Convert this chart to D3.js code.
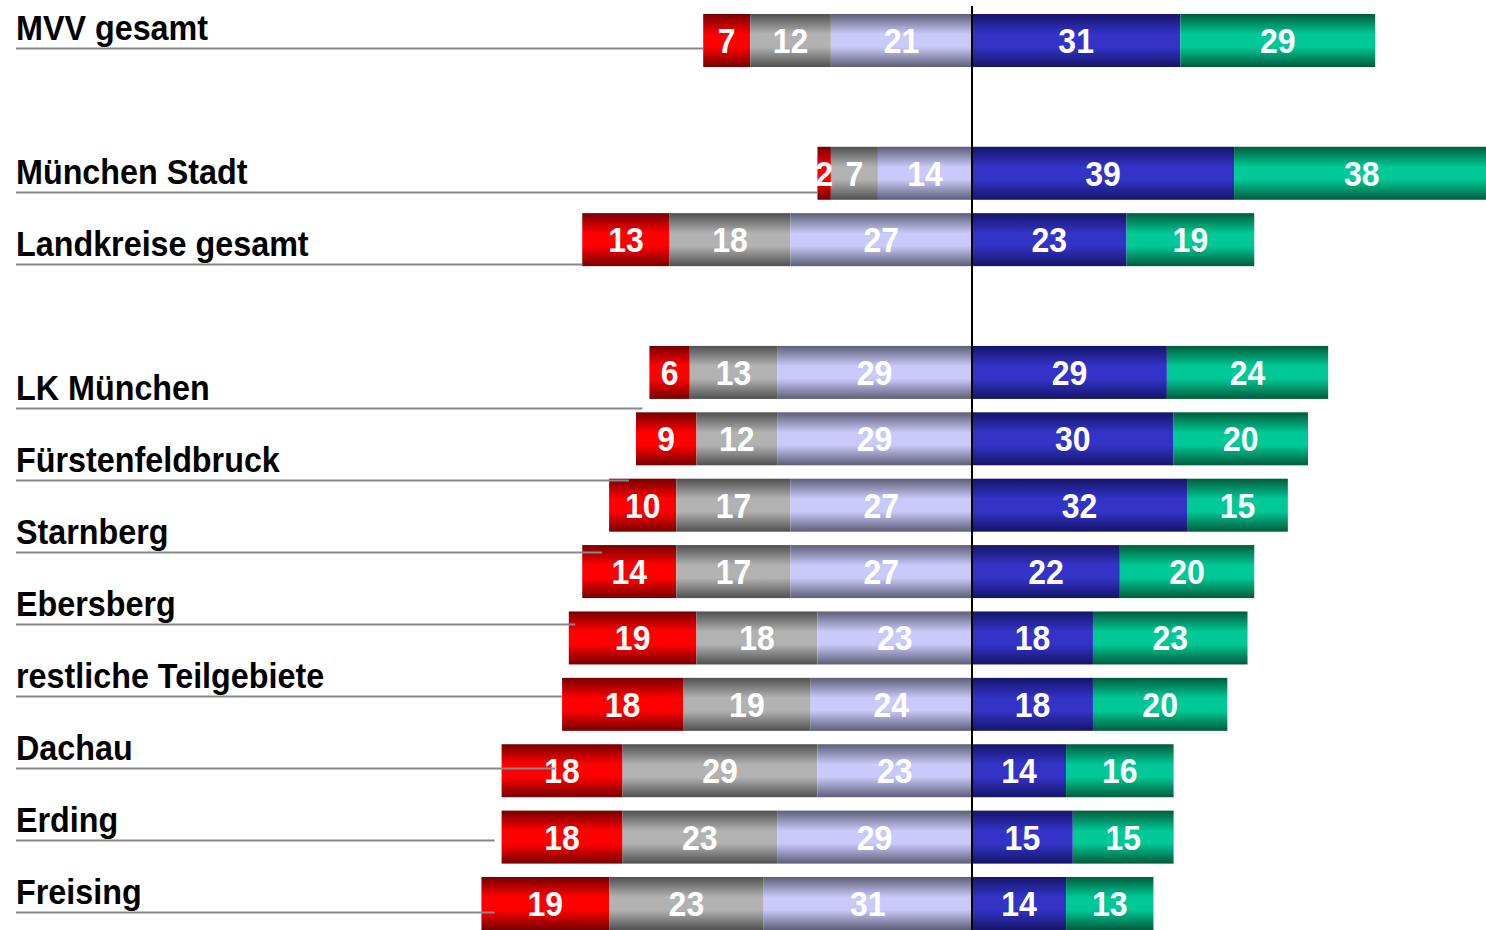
<!DOCTYPE html>
<html>
<head>
  <meta charset="utf-8">
  <style>
    body { margin: 0; background: #fff; }
    text { font-family: "Liberation Sans", Arial, sans-serif; font-weight: bold; }
  </style>
</head>
<body>
<svg id="chart" width="1486" height="930"></svg>
<script src="https://d3js.org/d3.v7.min.js"></script>
<script>
// region labels (the last bar row has no label in the original slide)
var labels = ["MVV gesamt", "München Stadt", "Landkreise gesamt", "LK München",
  "Fürstenfeldbruck", "Starnberg", "Ebersberg", "restliche Teilgebiete",
  "Dachau", "Erding", "Freising"];

// left side (negative answers), stacked outward from the centre line
var red      = [7, 2, 13, 6, 9, 10, 14, 19, 18, 18, 18, 19];
var grey     = [12, 7, 18, 13, 12, 17, 17, 18, 19, 29, 23, 23];
var lavender = [21, 14, 27, 29, 29, 27, 27, 23, 24, 23, 29, 31];
// right side (positive answers)
var blue     = [31, 39, 23, 29, 30, 32, 22, 18, 18, 14, 15, 14];
var green    = [29, 38, 19, 24, 20, 15, 20, 23, 20, 16, 15, 13];

var colors = [
  {key: "red", main: "#ff0000", dark: "#760000"},
  {key: "grey", main: "#b2b2b2", dark: "#505050"},
  {key: "lavender", main: "#c9c9fa", dark: "#5e5e78"},
  {key: "blue", main: "#3333c8", dark: "#15156a"},
  {key: "green", main: "#00c896", dark: "#005c3c"}
];

var svg = d3.select("#chart");

// slot index: gaps after the 1st row and after the 3rd row
function slot(i) { return i < 1 ? i : (i < 3 ? i + 1 : i + 2); }

var x = d3.scaleLinear().domain([-73, 77]).range([972 - 73 * 6.72, 972 + 77 * 6.72]);
var yBar = d3.scaleLinear().domain([0, 13]).range([14, 877]);
var yLabel = d3.scaleLinear().domain([0, 12]).range([48.5, 912.5]);
var barH = 53;

var defs = svg.append("defs");
colors.forEach(function(c) {
  var g = defs.append("linearGradient")
      .attr("id", "g-" + c.key)
      .attr("x1", 0).attr("y1", 0).attr("x2", 0).attr("y2", 1);
  g.append("stop").attr("offset", "0%").attr("stop-color", c.dark);
  g.append("stop").attr("offset", "38%").attr("stop-color", c.main);
  g.append("stop").attr("offset", "62%").attr("stop-color", c.main);
  g.append("stop").attr("offset", "100%").attr("stop-color", c.dark);
});

// build segments per row
var rows = red.map(function(d, i) {
  var segs = [];
  var l1 = lavender[i], l2 = l1 + grey[i], l3 = l2 + red[i];
  segs.push({key: "red", v: red[i], x0: -l3, x1: -l2});
  segs.push({key: "grey", v: grey[i], x0: -l2, x1: -l1});
  segs.push({key: "lavender", v: lavender[i], x0: -l1, x1: 0});
  segs.push({key: "blue", v: blue[i], x0: 0, x1: blue[i]});
  segs.push({key: "green", v: green[i], x0: blue[i], x1: blue[i] + green[i]});
  return {i: i, left: l3, segs: segs};
});

var row = svg.selectAll(".row")
    .data(rows)
  .enter().append("g")
    .attr("class", "row")
    .attr("transform", function(d) { return "translate(0," + yBar(slot(d.i)) + ")"; });

row.selectAll("rect")
    .data(function(d) { return d.segs; })
  .enter().append("rect")
    .attr("x", function(d) { return x(d.x0); })
    .attr("width", function(d) { return x(d.x1) - x(d.x0); })
    .attr("y", 0)
    .attr("height", barH)
    .attr("fill", function(d) { return "url(#g-" + d.key + ")"; });

// category labels with underline
var lab = svg.selectAll(".lab")
    .data(labels)
  .enter().append("g")
    .attr("class", "lab");

lab.append("line")
    .attr("x1", 16)
    .attr("x2", function(d, i) { return x(-rows[i].left) - (i > 2 ? 7 : 0); })
    .attr("y1", function(d, i) { return yLabel(slot(i)); })
    .attr("y2", function(d, i) { return yLabel(slot(i)); })
    .attr("stroke", "#888")
    .attr("stroke-width", 2);

lab.append("text")
    .attr("transform", function(d, i) { return "translate(16," + (yLabel(slot(i)) - 8.5) + ") scale(1.01,1.08)"; })
    .attr("font-size", 32)
    .attr("fill", "#000")
    .text(function(d) { return d; });

// value labels
row.selectAll(".val")
    .data(function(d) { return d.segs; })
  .enter().append("text")
    .attr("class", "val")
    .attr("transform", function(d) {
      return "translate(" + (x(d.x0) + x(d.x1)) / 2 + "," + (barH / 2) + ") scale(1,1.08)";
    })
    .attr("text-anchor", "middle")
    .attr("dy", "0.36em")
    .attr("font-size", 32)
    .attr("fill", "#fff")
    .text(function(d) { return d.v; });

// centre line
svg.append("line")
    .attr("x1", x(0)).attr("x2", x(0))
    .attr("y1", 6).attr("y2", 930)
    .attr("stroke", "#000")
    .attr("stroke-width", 2);
</script>
</body>
</html>
